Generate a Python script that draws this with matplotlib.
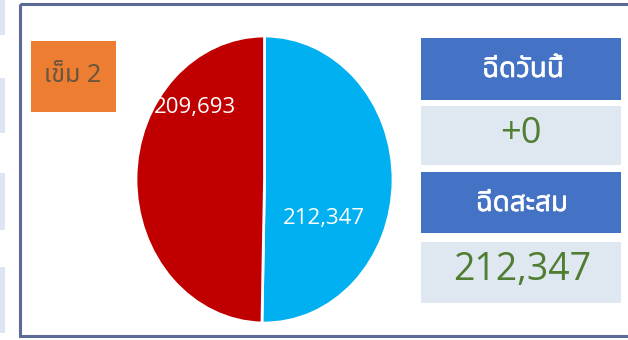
import matplotlib
matplotlib.use('Agg')
import matplotlib.pyplot as plt
import matplotlib.patheffects as pe
from matplotlib import font_manager
from matplotlib.ft2font import FT2Font
from matplotlib.patches import Rectangle

# doses per group (blue = today's running total, red = the other group)
slice_values = [212347, 209693]
slice_colors = ['#00b0f0', '#c00000']
dose_label = 'เข็ม 2'
today_title = 'ฉีดวันนี้'
total_title = 'ฉีดสะสม'
today_doses = 0
total_doses = slice_values[0]


def thai_family():
    # first installed family that can draw Thai
    names = []
    for f in font_manager.fontManager.ttflist:
        try:
            if 0x0E09 in FT2Font(f.fname).get_charmap():
                names.append(f.name)
        except Exception:
            pass
    for pref in ['Noto Sans Thai', 'Noto Sans Thai UI', 'Loma', 'Garuda', 'Tlwg Typo']:
        if pref in names:
            return pref
    return names[0] if names else 'DejaVu Sans'


thai = [thai_family(), 'DejaVu Sans']

fig = plt.figure(figsize=(6.28, 3.40), dpi=100)
fig.patch.set_facecolor('white')

# background panel in pixel coordinates
bg = fig.add_axes([0, 0, 1, 1])
bg.set_xlim(0, 628)
bg.set_ylim(340, 0)
bg.axis('off')

for y0, y1 in [(0, 35), (78, 133), (173, 230), (267, 333)]:
    bg.add_patch(Rectangle((0, y0), 5, y1 - y0, color='#dce5f1', lw=0))
bg.add_patch(Rectangle((20, 4), 620, 332, fill=False, edgecolor='#5b6a96', lw=2.2))

bg.add_patch(Rectangle((31, 41), 85, 71, color='#ed7d31', lw=0))
bg.text(73, 75, dose_label, family=thai, fontsize=18, color='#6a5540',
        ha='center', va='center')

boxes = [(38, 100, '#4472c4'), (106, 165, '#dfe7f1'),
         (172, 233, '#4472c4'), (242, 303, '#dfe7f1')]
for y0, y1, c in boxes:
    bg.add_patch(Rectangle((421, y0), 200, y1 - y0, color=c, lw=0))

# headers drawn with a thin white stroke to thicken them
bold = [pe.withStroke(linewidth=0.4, foreground='white')]
bg.text(523, 70, today_title, family=thai, fontsize=20, fontweight='bold',
        color='white', ha='center', va='center', path_effects=bold)
bg.text(522, 204, total_title, family=thai, fontsize=20, fontweight='bold',
        color='white', ha='center', va='center', path_effects=bold)
bg.text(521, 134, '+{:,}'.format(today_doses), family='Open Sans', fontsize=26,
        color='#4f7d31', ha='center', va='center')
bg.text(522, 270, '{:,}'.format(total_doses), family='Open Sans', fontsize=27,
        color='#4f7d31', ha='center', va='center')

# pie, stretched to fill its box
pax = fig.add_axes([136 / 628, 17 / 340, 257 / 628, 287 / 340])
wedges, _ = pax.pie(slice_values, colors=slice_colors, startangle=90,
                    counterclock=False,
                    wedgeprops=dict(edgecolor='white', linewidth=2))
pax.set_aspect('auto')
pax.set_xlim(-1.0, 1.0)
pax.set_ylim(-1.0, 1.0)
for w in wedges:
    w.set_clip_on(False)

label_pos = [(0.46, -0.27), (-0.54, 0.50)]
for v, (x, y) in zip(slice_values, label_pos):
    pax.text(x, y, '{:,}'.format(v), family='Open Sans', fontsize=16,
             color='white', ha='center', va='center')

fig.savefig('out.png', dpi=100)
